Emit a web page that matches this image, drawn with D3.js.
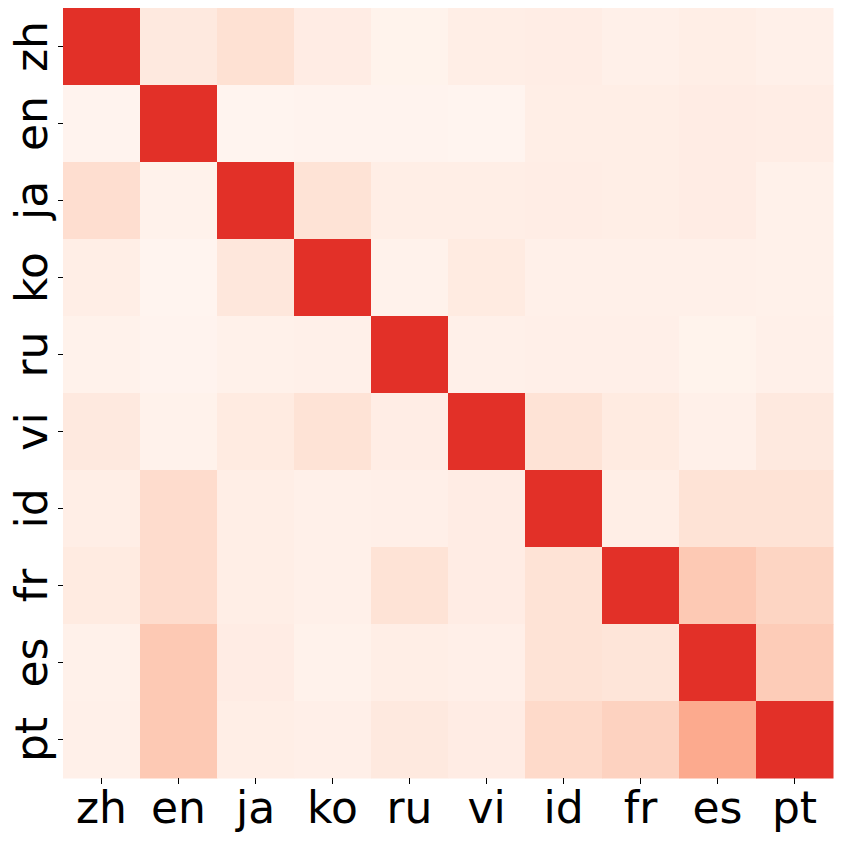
<!DOCTYPE html>
<html>
<head>
<meta charset="utf-8">
<script src="https://cdn.jsdelivr.net/npm/d3@7"></script>
<style>
  body { margin: 0; background: #fff; }
</style>
</head>
<body>
<div id="chart"></div>
<script>
const w = 842;
const h = 842;
const margin = {top: 8, right: 9, bottom: 64, left: 63};

const langs = ["zh", "en", "ja", "ko", "ru", "vi", "id", "fr", "es", "pt"];

// rows = langs, cols = langs
const zh = [1.000, 0.105, 0.165, 0.075, 0.022, 0.060, 0.068, 0.045, 0.060, 0.045];
const en = [0.015, 1.000, 0.008, 0.015, 0.015, 0.008, 0.060, 0.060, 0.075, 0.068];
const ja = [0.180, 0.030, 1.000, 0.150, 0.060, 0.060, 0.068, 0.060, 0.075, 0.038];
const ko = [0.060, 0.008, 0.120, 1.000, 0.030, 0.090, 0.045, 0.045, 0.045, 0.038];
const ru = [0.030, 0.015, 0.038, 0.045, 1.000, 0.045, 0.052, 0.052, 0.022, 0.045];
const vi = [0.105, 0.030, 0.090, 0.150, 0.068, 1.000, 0.150, 0.090, 0.045, 0.105];
const id = [0.060, 0.195, 0.060, 0.045, 0.052, 0.075, 1.000, 0.060, 0.150, 0.150];
const fr = [0.090, 0.195, 0.060, 0.045, 0.150, 0.075, 0.150, 1.000, 0.300, 0.240];
const es = [0.038, 0.300, 0.075, 0.030, 0.060, 0.052, 0.150, 0.135, 1.000, 0.285];
const pt = [0.045, 0.300, 0.060, 0.052, 0.105, 0.075, 0.210, 0.255, 0.450, 1.000];

const matrix = [zh, en, ja, ko, ru, vi, id, fr, es, pt];

let cells = [];
matrix.forEach(function(row, i) {
  row.forEach(function(v, j) {
    cells.push({row: langs[i], col: langs[j], value: v});
  });
});

const svg = d3.select('#chart')
  .append('svg')
  .attr('width', w)
  .attr('height', h);

let xScale = d3.scaleBand()
  .domain(langs)
  .range([margin.left, w - margin.right]);

let yScale = d3.scaleBand()
  .domain(langs)
  .range([margin.top, h - margin.bottom]);

let color = d3.scaleSequential(d3.interpolateReds)
  .domain([0, 1.5]);

svg.selectAll("rect")
  .data(cells)
  .enter()
  .append("rect")
  .attr("x", function(d) { return xScale(d.col); })
  .attr("y", function(d) { return yScale(d.row); })
  .attr("width", xScale.bandwidth() + 0.5)
  .attr("height", yScale.bandwidth() + 0.5)
  .attr("fill", function(d) { return color(d.value); });

let xAxis = d3.axisBottom(xScale).tickSize(6);
let yAxis = d3.axisLeft(yScale).tickSize(5);

let gx = svg.append("g")
  .attr("transform", "translate(0," + (h - margin.bottom) + ")")
  .call(xAxis);
gx.select(".domain").remove();
gx.selectAll("text")
  .attr("font-family", "DejaVu Sans")
  .attr("font-size", "44px")
  .attr("fill", "#000")
  .attr("y", 45)
  .attr("dy", null);

let gy = svg.append("g")
  .attr("transform", "translate(" + margin.left + ",0)")
  .call(yAxis);
gy.select(".domain").remove();
gy.selectAll("text")
  .attr("font-family", "DejaVu Sans")
  .attr("font-size", "44px")
  .attr("fill", "#000")
  .attr("text-anchor", "middle")
  .attr("dy", null)
  .attr("x", null)
  .attr("transform", "translate(-16,0) rotate(-90)");
</script>
</body>
</html>
